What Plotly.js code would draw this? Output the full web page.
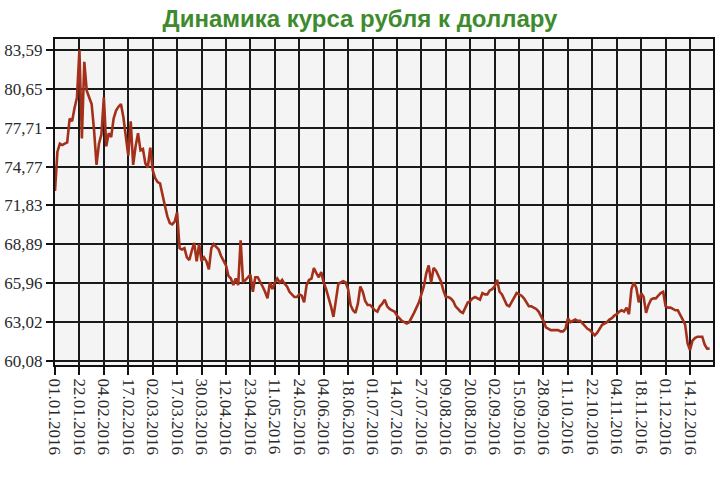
<!DOCTYPE html>
<html>
<head>
<meta charset="utf-8">
<script src="https://cdn.plot.ly/plotly-3.0.1.min.js"></script>
<style>html,body{margin:0;padding:0;background:#fff;}#chart{width:720px;height:480px;}</style>
</head>
<body>
<div id="chart"></div>
<script>
// Курс USD/RUB 2016, значения по торговым дням (оценка по рисунку)
const rates = [
72.93,75.9,76.5,76.4,76.5,76.6,78.4,78.2,79.2,80.0,
83.59,76.9,82.7,80.5,80.0,79.5,77.5,74.9,76.5,77.2,
80.0,76.3,77.3,77.0,78.4,79.0,79.3,79.5,78.5,77.0,
75.6,78.2,74.9,76.3,77.3,76.0,76.1,75.0,74.7,76.2,
74.5,73.9,73.6,73.5,72.5,71.8,71.0,70.5,70.4,70.6,
71.3,68.6,68.5,68.6,67.9,67.7,68.4,69.0,67.6,68.9,
67.6,67.9,67.6,67.0,68.6,68.9,68.7,68.5,68.0,67.7,
67.3,66.5,66.3,65.8,66.3,65.8,69.2,66.0,66.2,66.4,
66.6,65.3,66.4,66.4,66.1,65.7,65.3,64.8,66.0,65.5,
66.0,66.3,66.0,66.2,65.9,65.7,65.3,65.1,64.9,64.9,
65.1,65.0,64.5,65.8,66.2,66.3,67.1,66.7,66.4,66.8,
66.0,65.5,64.9,64.2,63.4,64.5,65.9,66.0,66.1,66.0,
65.5,64.3,63.9,63.7,64.4,65.7,65.3,64.6,64.3,64.3,
64.1,63.9,63.8,64.2,64.4,64.7,64.2,64.0,63.9,63.8,
63.5,63.3,63.1,63.0,62.9,63.0,63.3,63.7,64.1,64.5,
65.1,65.7,66.7,67.3,66.0,67.1,66.9,66.5,66.1,65.4,
64.9,64.9,64.8,64.6,64.2,64.0,63.8,63.7,64.1,64.5,
64.6,64.8,64.9,64.8,64.7,65.2,65.1,65.1,65.4,65.5,
65.7,66.2,65.3,65.1,64.7,64.3,64.2,64.5,64.9,65.2,
65.1,65.0,64.8,64.5,64.2,64.2,64.1,64.0,63.8,63.5,
63.1,62.6,62.5,62.4,62.4,62.4,62.4,62.3,62.3,62.5,
63.3,63.0,63.1,63.2,63.1,63.1,62.9,62.7,62.5,62.4,
62.2,62.0,62.2,62.5,62.8,62.9,63.0,63.2,63.3,63.5,
63.6,63.8,63.9,63.8,64.1,63.6,65.5,66.0,65.6,64.5,
65.2,64.9,63.7,64.3,64.7,64.8,64.8,65.0,65.2,65.3,
64.2,64.1,64.1,64.0,63.9,63.9,63.6,63.2,62.8,61.4,
60.9,61.6,61.8,61.9,61.9,61.9,61.3,61.0,61.0
];
const tickLabels = ["01.01.2016","22.01.2016","04.02.2016","17.02.2016","02.03.2016","17.03.2016",
"30.03.2016","12.04.2016","23.04.2016","11.05.2016","24.05.2016","04.06.2016","18.06.2016",
"01.07.2016","14.07.2016","27.07.2016","09.08.2016","20.08.2016","02.09.2016","15.09.2016",
"28.09.2016","11.10.2016","22.10.2016","04.11.2016","18.11.2016","01.12.2016","14.12.2016"];
const tickIndex = [0,10,20,30,40,50,60,70,80,90,100,110,120,130,140,150,160,170,180,190,200,210,220,230,240,250,260];
const yTicks = [60.08,63.02,65.96,68.89,71.83,74.77,77.71,80.65,83.59];
const titleText = "Динамика курса рубля к доллару";

const xIdx = rates.map((_, i) => i);
const trace = {
  x: xIdx, y: rates, type: 'scatter', mode: 'lines',
  line: {color: '#a3301a', width: 2.6}, hoverinfo: 'skip'
};
const layout = {
  width: 720, height: 480,
  margin: {l: 55, r: 7, t: 39, b: 115},
  paper_bgcolor: '#ffffff', plot_bgcolor: '#f4f4f4',
  showlegend: false,
  title: {text: '<b>' + titleText + '</b>', font: {family: 'Liberation Sans, Arial, sans-serif', size: 24, color: '#3d8b2c'},
          x: 0.5, xanchor: 'center', xref: 'container', y: 0.962, yanchor: 'middle', yref: 'container'},
  xaxis: {
    range: [0, 269.4], tickmode: 'array', tickvals: tickIndex, ticktext: tickLabels,
    tickangle: 90, ticks: 'outside', ticklen: 8, tickwidth: 2, tickcolor: '#111',
    showgrid: true, gridcolor: '#1a1a1a', gridwidth: 2,
    showline: true, linecolor: '#111', linewidth: 2, mirror: true, zeroline: false,
    tickfont: {family: 'Liberation Serif, Times New Roman, serif', size: 17, color: '#2a2a2a'}
  },
  yaxis: {
    range: [59.76, 84.42], tickmode: 'array', tickvals: yTicks,
    ticktext: yTicks.map(v => v.toFixed(2).replace('.', ',')),
    ticks: 'outside', ticklen: 7, tickwidth: 2, tickcolor: '#111',
    showgrid: true, gridcolor: '#1a1a1a', gridwidth: 2,
    showline: true, linecolor: '#111', linewidth: 2, mirror: true, zeroline: false,
    tickfont: {family: 'Liberation Serif, Times New Roman, serif', size: 17, color: '#2a2a2a'}
  }
};
Plotly.newPlot('chart', [trace], layout, {staticPlot: true, displayModeBar: false});
</script>
</body>
</html>
